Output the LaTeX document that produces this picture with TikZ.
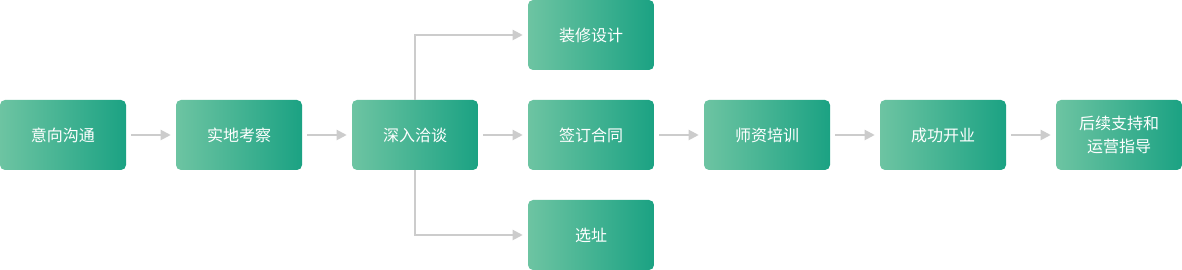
\documentclass[tikz,border=0pt]{standalone}
\usepackage{fontspec}
\setmainfont{Noto Sans CJK SC}
\usetikzlibrary{arrows.meta}
\definecolor{lightgreen}{HTML}{6DC4A2}
\definecolor{darkgreen}{HTML}{1BA283}
\definecolor{linegray}{HTML}{CCCCCC}
\begin{document}
\begin{tikzpicture}[x=0.75pt, y=0.75pt,
    stepbox/.style={rectangle, rounded corners=3.75pt, left color=lightgreen, right color=darkgreen,
        minimum width=94.5pt, minimum height=52.5pt, inner sep=0pt,
        text=white, font=\fontsize{12pt}{17pt}\selectfont, align=center},
    flow/.style={-{Triangle[length=7.5pt,width=7.5pt]}, linegray, line width=1.5pt, shorten >=3.75pt}]
    \useasboundingbox (0, 0) rectangle (1182, 270);
    % 主流程
    \node[stepbox] (talk) at (63, 135) {意向沟通};
    \node[stepbox] (survey) at (239, 135) {实地考察};
    \node[stepbox] (negotiate) at (415, 135) {深入洽谈};
    \node[stepbox] (contract) at (591, 135) {签订合同};
    \node[stepbox] (training) at (767, 135) {师资培训};
    \node[stepbox] (opening) at (943, 135) {成功开业};
    \node[stepbox] (support) at (1119, 135) {后续支持和\\运营指导};

    % 分支
    \node[stepbox] (design) at (591, 235) {装修设计};
    \node[stepbox] (site) at (591, 35) {选址};

    % 箭头
    \draw[flow, shorten <=3.75pt] (talk) -- (survey);
    \draw[flow, shorten <=3.75pt] (survey) -- (negotiate);
    \draw[flow, shorten <=3.75pt] (negotiate) -- (contract);
    \draw[flow, shorten <=3.75pt] (contract) -- (training);
    \draw[flow, shorten <=3.75pt] (training) -- (opening);
    \draw[flow, shorten <=3.75pt] (opening) -- (support);
    \draw[flow] (negotiate.north) |- (design.west);
    \draw[flow] (negotiate.south) |- (site.west);
\end{tikzpicture}
\end{document}
